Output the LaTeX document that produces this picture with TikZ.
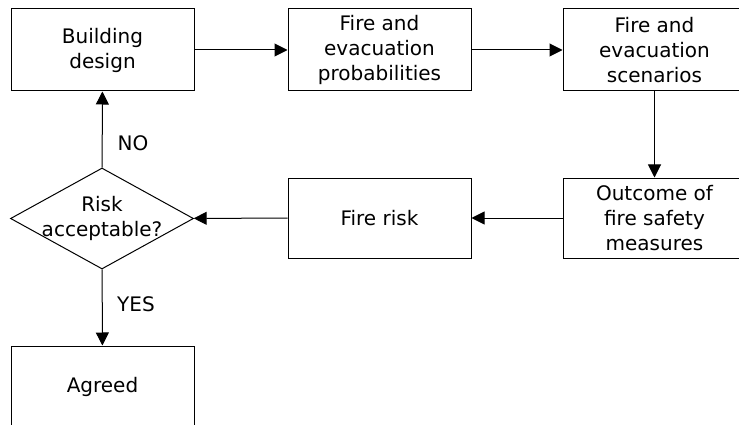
\documentclass[tikz,border=0pt]{standalone}
\usepackage{fontspec}
\setmainfont{DejaVu Sans}
\usetikzlibrary{shapes.geometric,arrows.meta}
\begin{document}
\begin{tikzpicture}[x=1pt,y=-1pt,
  every node/.style={font=\fontsize{20}{25}\selectfont},
  box/.style={draw,line width=1pt,minimum width=183pt,minimum height=82pt,align=center,inner sep=0pt},
  dec/.style={draw,line width=1pt,diamond,aspect=1.81,minimum width=183pt,minimum height=101pt,inner sep=0pt},
  arr/.style={line width=1pt,-{Triangle[length=13pt,width=13pt]}},
  lbl/.style={inner sep=0pt}]
\useasboundingbox (0,0) rectangle (739,425);
\clip (0,0) rectangle (739,425);
\node[box] (bd) at (102.5,50) {Building\\design};
\node[box] (fp) at (379.5,50) {Fire and\\evacuation\\probabilities};
\node[box] (fs) at (654.5,50) {Fire and\\evacuation\\scenarios};
\node[box,minimum height=80pt] (oc) at (654.5,218) {Outcome of\\fire safety\\measures};
\node[box,minimum height=80pt] (fr) at (379.5,218) {Fire risk};
\node[dec,label={[align=center,inner sep=0pt]center:Risk\\acceptable?}] (ra) at (102,218.5) {};
\node[box] (ag) at (102.5,387) {Agreed};
\draw[arr] (bd) -- (fp);
\draw[arr] (fp) -- (fs);
\draw[arr] (fs) -- (oc);
\draw[arr] (oc) -- (fr);
\draw[arr] (fr) -- (ra);
\draw[arr] (ra) -- (bd);
\draw[arr] (ra) -- (ag);
\node[lbl] (no) at (133,143) {NO};
\node[lbl] (yes) at (136,304) {YES};
\end{tikzpicture}
\end{document}
